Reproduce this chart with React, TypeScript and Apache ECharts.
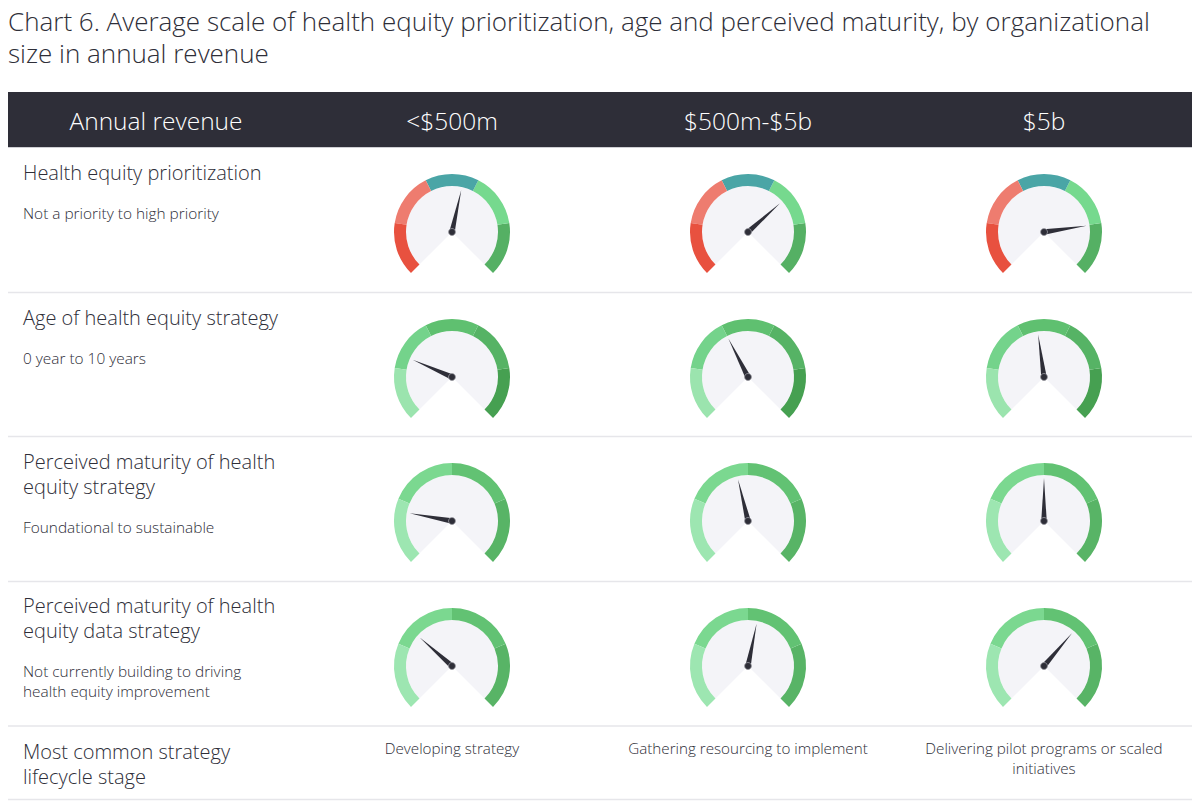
import React, { useEffect, useRef } from "react";
import * as echarts from "echarts";

// ---------- data ----------
const chartTitleLines = [
  "Chart 6. Average scale of health equity prioritization, age and perceived maturity, by organizational",
  "size in annual revenue",
];
const headerLabel = "Annual revenue";
const revenueCategories = ["<$500m", "$500m-$5b", "$5b"];

const rowTitles = [
  ["Health equity prioritization"],
  ["Age of health equity strategy"],
  ["Perceived maturity of health", "equity strategy"],
  ["Perceived maturity of health", "equity data strategy"],
];
const rowSubtitles = [
  ["Not a priority to high priority"],
  ["0 year to 10 years"],
  ["Foundational to sustainable"],
  ["Not currently building to driving", "health equity improvement"],
];
const lifecycleTitle = ["Most common strategy", "lifecycle stage"];
const lifecycleStages = [
  ["Developing strategy"],
  ["Gathering resourcing to implement"],
  ["Delivering pilot programs or scaled", "initiatives"],
];

// gauge scales (min 0)
const scaleMax = [5, 10, 4, 4];
// values per revenue category
const prioritization = [2.73, 3.39, 4.01];
const strategyAge = [2.55, 4.0, 4.71];
const strategyMaturity = [0.82, 1.8, 2.0];
const dataMaturity = [1.28, 2.17, 2.6];
const gaugeValues = [prioritization, strategyAge, strategyMaturity, dataMaturity];

const bandColors = [
  ["#e8513f", "#ee7c6f", "#4aa5a6", "#76d98e", "#55b064"],
  ["#9be4ae", "#74d38b", "#5fc070", "#56b365", "#46a051"],
  ["#9de6b1", "#7bd890", "#62c273", "#58b466"],
  ["#9de6b1", "#7bd890", "#62c273", "#58b466"],
];

// ---------- layout ----------
const W = 1200;
const H = 804;
const colX = [452, 748, 1044];
const rowY = [232, 377, 521, 666];
const sepY = [292.5, 436.5, 581.5, 726, 799.5];
const FONT = "'Open Sans', 'Noto Sans', sans-serif";
const DARK = "#2e2e38";
const NEEDLE = "path://M3,0 L6,100 L0,100 Z";

export default function App() {
  const ref = useRef<HTMLDivElement>(null);

  useEffect(() => {
    if (!ref.current) return;
    const chart = echarts.init(ref.current, undefined, { renderer: "svg", width: W, height: H });

    const series: any[] = [];
    gaugeValues.forEach((vals, r) => {
      const colors = bandColors[r];
      const stops = colors.map((c, i) => [(i + 1) / colors.length, c]);
      vals.forEach((v, c) => {
        series.push({
          type: "pie",
          silent: true,
          center: [colX[c], rowY[r]],
          radius: [0, 46],
          startAngle: 225,
          clockwise: true,
          label: { show: false },
          labelLine: { show: false },
          emphasis: { disabled: true },
          z: 1,
          data: [
            { value: 270, itemStyle: { color: "#f4f4f8" } },
            { value: 90, itemStyle: { color: "rgba(0,0,0,0)" } },
          ],
        });
        series.push({
          type: "gauge",
          center: [colX[c], rowY[r]],
          radius: 58,
          min: 0,
          max: scaleMax[r],
          startAngle: 225,
          endAngle: -45,
          z: 2,
          axisLine: { lineStyle: { width: 12, color: stops } },
          splitLine: { show: false },
          axisTick: { show: false },
          axisLabel: { show: false },
          pointer: { icon: NEEDLE, length: 43, width: 5.5, itemStyle: { color: DARK } },
          anchor: {
            show: true,
            size: 7,
            showAbove: true,
            itemStyle: { color: DARK, borderColor: "#9a9aa2", borderWidth: 0.8 },
          },
          title: { show: false },
          detail: { show: false },
          data: [{ value: v }],
        });
      });
    });

    const graphic: any[] = [];
    const txt = (
      text: string,
      x: number,
      y: number,
      size: number,
      fill: string,
      align = "left",
      weight: any = 300
    ) => ({
      type: "text",
      silent: true,
      style: {
        text,
        x,
        y,
        fill,
        fontSize: size,
        fontFamily: FONT,
        fontWeight: weight,
        textAlign: align,
        textVerticalAlign: "middle",
      },
    });
    const block = (
      lines: string[],
      x: number,
      firstMid: number,
      size: number,
      lh: number,
      fill: string,
      align = "left",
      weight: any = 300
    ) => ({
      type: "text",
      silent: true,
      style: {
        text: lines.join("\n"),
        x,
        y: firstMid - lh / 2,
        fill,
        fontSize: size,
        lineHeight: lh,
        fontFamily: FONT,
        fontWeight: weight,
        textAlign: align,
        textVerticalAlign: "top",
      },
    });

    graphic.push(block(chartTitleLines, 8, 21, 26, 32, DARK));

    graphic.push({
      type: "rect",
      silent: true,
      shape: { x: 8, y: 92, width: 1184, height: 55 },
      style: { fill: DARK },
    });
    graphic.push({
      type: "line",
      silent: true,
      shape: { x1: 8, y1: 147.5, x2: 1192, y2: 147.5 },
      style: { stroke: "#cfcfd4", lineWidth: 1 },
    });
    graphic.push(txt(headerLabel, 156, 120, 24.5, "#ffffff", "center"));
    revenueCategories.forEach((t, i) => graphic.push(txt(t, colX[i], 120, 24.5, "#ffffff", "center")));

    const titleTop = [172.5, 317, 461.5, 605.5];
    rowTitles.forEach((lines, r) => {
      graphic.push(block(lines, 23, titleTop[r], 20, 25, DARK));
      const subTop = titleTop[r] + (lines.length - 1) * 25 + 41;
      graphic.push(block(rowSubtitles[r], 23, subTop, 15.4, 19.5, DARK));
    });
    graphic.push(block(lifecycleTitle, 23, 751, 20, 25, DARK));
    lifecycleStages.forEach((lines, c) => {
      graphic.push(block(lines, colX[c], 748, 15.2, 19.5, DARK, "center"));
    });

    sepY.forEach((y) =>
      graphic.push({
        type: "line",
        silent: true,
        shape: { x1: 8, y1: y, x2: 1192, y2: y },
        style: { stroke: "#e6e6ea", lineWidth: 1.5 },
      })
    );

    chart.setOption({
      animation: false,
      backgroundColor: "#ffffff",
      series,
      graphic,
    });

    return () => chart.dispose();
  }, []);

  return (
    <div
      ref={ref}
      style={{ position: "absolute", left: 0, top: 0, width: W, height: H, background: "#fff" }}
    />
  );
}
